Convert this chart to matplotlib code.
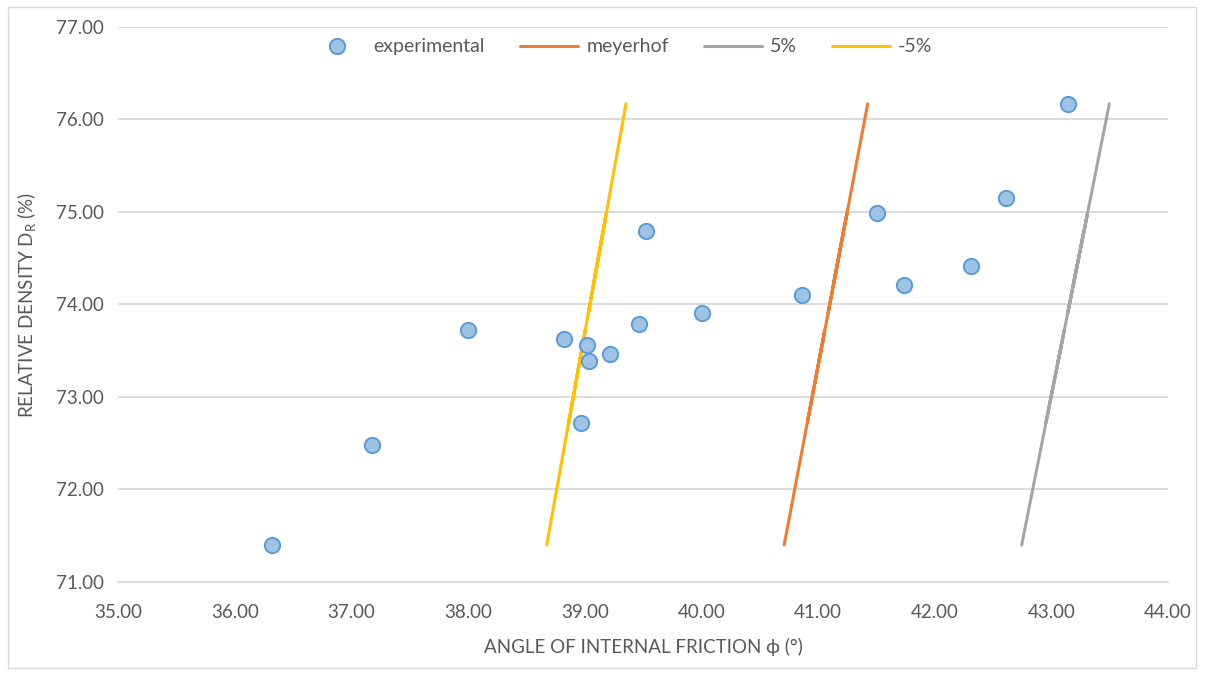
import matplotlib
matplotlib.use("Agg")
import matplotlib.pyplot as plt
from matplotlib.patches import Rectangle

# experimental data (sorted by friction angle)
phi_exp = [36.32, 37.18, 38.00, 38.82, 38.97, 39.02, 39.04, 39.22, 39.47, 39.53,
           40.01, 40.86, 41.51, 41.74, 42.31, 42.61, 43.14]
dr_exp = [71.40, 72.48, 73.72, 73.63, 72.72, 73.56, 73.39, 73.46, 73.79, 74.79,
          73.91, 74.10, 74.99, 74.21, 74.42, 75.15, 76.17]

# Meyerhof prediction and +/-5% bands at the same densities
phi_meyerhof = [40.710, 40.872, 41.058, 41.045, 40.908, 41.034, 41.009, 41.019, 41.069,
                41.219, 41.087, 41.115, 41.249, 41.132, 41.163, 41.273, 41.426]
phi_plus5 = [42.746, 42.916, 43.111, 43.097, 42.953, 43.086, 43.059, 43.070, 43.122,
             43.279, 43.141, 43.171, 43.311, 43.188, 43.221, 43.336, 43.497]
phi_minus5 = [38.675, 38.828, 39.005, 38.992, 38.863, 38.982, 38.958, 38.968, 39.015,
              39.158, 39.032, 39.059, 39.186, 39.075, 39.105, 39.209, 39.354]

x_ticks = [35, 36, 37, 38, 39, 40, 41, 42, 43, 44]
y_ticks = [71, 72, 73, 74, 75, 76, 77]

plt.rcParams['font.family'] = ['Lato', 'DejaVu Sans']
txt = '#595959'

fig = plt.figure(figsize=(12.06, 6.75), dpi=100)
W, H = 1206, 675
ax = fig.add_axes([118 / W, 1 - 582 / H, 1050 / W, 555 / H])

fig.patches.append(Rectangle((8 / W, 7 / H), 1188 / W, 661 / H, transform=fig.transFigure,
                             fill=False, edgecolor='#D9D9D9', linewidth=1.0))

ax.plot(phi_exp, dr_exp, linestyle='none', marker='o', markersize=11,
        markerfacecolor='#9DC3E6', markeredgecolor='#5B9BD5', markeredgewidth=1.4,
        label='experimental', zorder=5)
ax.plot(phi_meyerhof, dr_exp, color='#ED7D31', linewidth=2.2, label='meyerhof',
        solid_capstyle='round', zorder=3)
ax.plot(phi_plus5, dr_exp, color='#A5A5A5', linewidth=2.2, label='5%',
        solid_capstyle='round', zorder=3)
ax.plot(phi_minus5, dr_exp, color='#FFC000', linewidth=2.2, label='-5%',
        solid_capstyle='round', zorder=3)

ax.set_xlim(35, 44)
ax.set_ylim(71, 77)
ax.set_xticks(x_ticks)
ax.set_yticks(y_ticks)
ax.set_xticklabels([f'{v:.2f}' for v in x_ticks])
ax.set_yticklabels([f'{v:.2f}' for v in y_ticks])
ax.tick_params(axis='both', length=0, labelsize=13.5, colors=txt)
ax.tick_params(axis='x', pad=16)
ax.tick_params(axis='y', pad=10)

ax.grid(axis='y', color='#D9D9D9', linewidth=1.3)
ax.set_axisbelow(True)
for s in ['top', 'right', 'left']:
    ax.spines[s].set_visible(False)
ax.spines['bottom'].set_color('#D9D9D9')
ax.spines['bottom'].set_linewidth(1.3)

ax.set_xlabel('ANGLE OF INTERNAL FRICTION ϕ (°)', fontsize=13.5, color=txt, labelpad=12)
ax.set_ylabel('RELATIVE DENSITY D$_\\mathregular{R}$ (%)', fontsize=13.5, color=txt, labelpad=12)

leg = ax.legend(loc='center', bbox_to_anchor=(0.478, 0.964), ncol=4, frameon=False,
                fontsize=14, handlelength=3.0, columnspacing=1.8, handletextpad=0.4)
for t in leg.get_texts():
    t.set_color(txt)

fig.savefig('out.png', dpi=100, facecolor='white')
